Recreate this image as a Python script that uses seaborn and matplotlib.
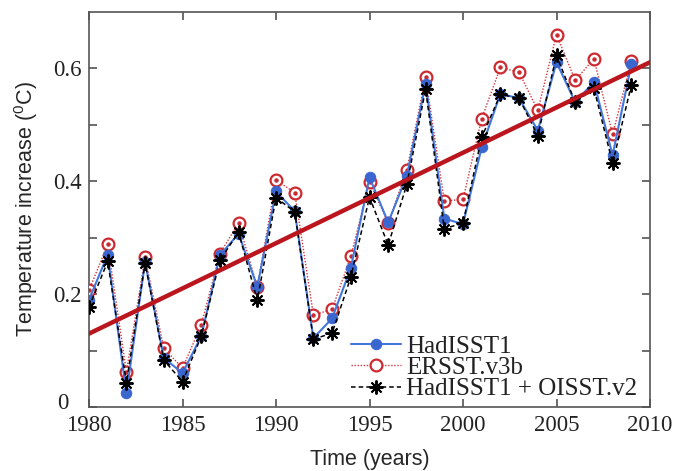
import matplotlib
matplotlib.use("Agg")
import matplotlib.pyplot as plt
import matplotlib.transforms as mtransforms
import seaborn as sns
import numpy as np
import pandas as pd

years = list(range(1980, 2010))
hadisst1 = [0.19, 0.27, 0.025, 0.257, 0.087, 0.06, 0.125, 0.269, 0.307, 0.213,
            0.382, 0.347, 0.122, 0.157, 0.246, 0.407, 0.327, 0.41, 0.573, 0.334,
            0.324, 0.46, 0.555, 0.547, 0.49, 0.611, 0.54, 0.576, 0.446, 0.607]
ersst = [0.207, 0.288, 0.062, 0.265, 0.104, 0.069, 0.145, 0.272, 0.326, 0.213,
         0.402, 0.38, 0.163, 0.173, 0.267, 0.399, 0.326, 0.42, 0.584, 0.365,
         0.368, 0.511, 0.602, 0.593, 0.526, 0.66, 0.579, 0.617, 0.483, 0.613]
hadoi = [0.177, 0.258, 0.043, 0.255, 0.083, 0.045, 0.125, 0.26, 0.31, 0.189,
         0.371, 0.346, 0.12, 0.131, 0.23, 0.372, 0.287, 0.395, 0.563, 0.316,
         0.326, 0.478, 0.554, 0.547, 0.481, 0.623, 0.54, 0.565, 0.432, 0.57]
trend_years = [1980, 2010]
trend_values = [0.13, 0.611]

labels = ["HadISST1", "ERSST.v3b", "HadISST1 + OISST.v2"]
xticks = [1980, 1985, 1990, 1995, 2000, 2005, 2010]
yticks = [0, 0.2, 0.4, 0.6]
ytick_labels = ["0", "0.2", "0.4", "0.6"]

sns.set_style("ticks")
plt.rcParams["font.family"] = ["Liberation Serif", "DejaVu Serif"]
plt.rcParams["mathtext.fontset"] = "custom"
plt.rcParams["mathtext.rm"] = "Liberation Sans"

fig = plt.figure(figsize=(6.74, 4.71), dpi=100)
ax = fig.add_axes([89/674, 1 - 407/471, (650 - 89)/674, (407 - 12)/471])

df = pd.DataFrame({"year": years, "had": hadisst1, "er": ersst, "hoi": hadoi})

sns.lineplot(data=df, x="year", y="er", ax=ax, color="#d8343a", linestyle=(0, (1, 1.2)),
             linewidth=1.0, marker="o", markersize=8.5, markerfacecolor="white",
             markeredgecolor="#cc2a30", markeredgewidth=1.6, label=labels[1], zorder=3)
sns.lineplot(data=df, x="year", y="had", ax=ax, color="#4277dc", linestyle="-",
             linewidth=1.5, marker="o", markersize=7.5, markerfacecolor="#3a66d0",
             markeredgecolor="#3a66d0", label=labels[0], zorder=4)
sns.lineplot(data=df, x="year", y="hoi", ax=ax, color="black", linestyle=(0, (3, 2)),
             linewidth=1.1, marker=(8, 2, 0), markersize=10, markeredgewidth=1.4,
             markeredgecolor="black", label=labels[2], zorder=5)
# center dots of ERSST markers
ax.plot(years, ersst, linestyle="none", marker="o", markersize=2.2, color="#cc2a30", zorder=3.5)

sns.lineplot(x=trend_years, y=trend_values, ax=ax, color="#bb161e", linewidth=3.2, zorder=6)

ax.set_xlim(1980, 2010)
ax.set_ylim(0, 0.7)
ax.set_xticks(xticks)
ax.set_xticklabels([str(t) for t in xticks])
ax.set_yticks(yticks)
ax.set_yticklabels(ytick_labels)
ax.set_yticks([0.1, 0.3, 0.5], minor=True)

for s in ax.spines.values():
    s.set_visible(True)
    s.set_color("#555555")
    s.set_linewidth(1.2)

ax.tick_params(axis="both", which="both", direction="in", top=True, right=True,
               length=6, width=1.1, color="#444444", labelsize=16.5, labelcolor="#222222")
ax.tick_params(axis="x", pad=6)
ax.tick_params(axis="y", pad=5)

# raise and shift the "0" label as in the reference
zero_lbl = ax.get_yticklabels()[0]
zero_lbl.set_transform(zero_lbl.get_transform() +
                       mtransforms.ScaledTranslation(-14/100, 6/100, fig.dpi_scale_trans))

ax.set_xlabel("Time (years)", family=["Liberation Sans", "DejaVu Sans"], fontsize=15.5, labelpad=9)
ax.set_ylabel("Temperature increase ($^0$C)", family=["Liberation Sans", "DejaVu Sans"],
              fontsize=15.5, labelpad=10)

handles, labs = ax.get_legend_handles_labels()
order = [labs.index(l) for l in labels]
leg = ax.legend([handles[i] for i in order], [labs[i] for i in order],
                loc="lower right", frameon=False, fontsize=18, handlelength=2.0,
                handletextpad=0.2, labelspacing=-0.05, borderaxespad=0.1,
                bbox_to_anchor=(1.0, -0.015))
for t in leg.get_texts():
    t.set_color("#222222")

fig.savefig("out.png", dpi=100)
